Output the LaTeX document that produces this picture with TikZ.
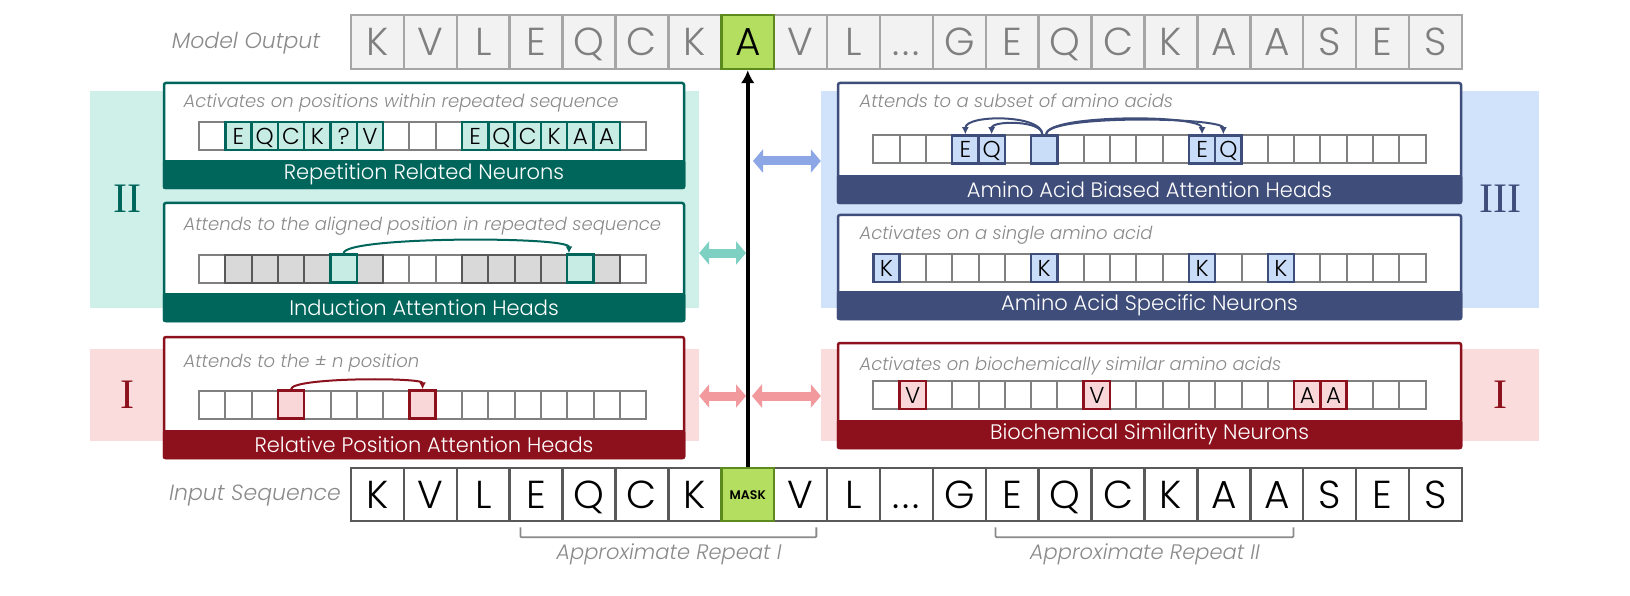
\documentclass[tikz,border=0pt]{standalone}
\usepackage{fontspec}
\setmainfont{Poppins}[UprightFont=* Light,ItalicFont=* Light Italic,BoldFont=* SemiBold]
\newfontfamily\numfont{Liberation Serif}
\usetikzlibrary{arrows.meta,positioning}
\definecolor{tealD}{HTML}{00665C}
\definecolor{tealL}{HTML}{CFEFE9}
\definecolor{tealC}{HTML}{C6ECE4}
\definecolor{tealA}{HTML}{7DD0C2}
\definecolor{navy}{HTML}{3F4D7A}
\definecolor{blueL}{HTML}{D1E2FB}
\definecolor{blueC}{HTML}{C9DCF8}
\definecolor{blueA}{HTML}{8CA6E6}
\definecolor{wine}{HTML}{8C111C}
\definecolor{pinkL}{HTML}{FADCDD}
\definecolor{pinkC}{HTML}{F9D6D8}
\definecolor{pinkA}{HTML}{F2999E}
\definecolor{pickgreen}{HTML}{B3DE5F}
\definecolor{pickedge}{HTML}{5C8A1E}
\definecolor{outfill}{HTML}{F2F2F2}
\definecolor{outgray}{HTML}{A6A6A6}
\definecolor{ingray}{HTML}{595959}
\definecolor{cellgray}{HTML}{808080}
\definecolor{txtgray}{HTML}{7F7F7F}
\definecolor{descgray}{HTML}{8A8A8A}
\definecolor{shade}{HTML}{D9D9D9}
\newcommand\seqdots{.\kern3pt.\kern3pt.}

\begin{document}
\begin{tikzpicture}[x=1pt,y=-1pt,
  outcell/.style={draw=outgray,fill=outfill,text=txtgray,line width=2.5pt,minimum width=52.9pt,minimum height=54pt,inner sep=0pt,text height=28pt,text depth=0pt,font=\fontsize{39}{39}\selectfont},
  incell/.style={outcell,draw=ingray,fill=white,text=black,minimum height=53pt},
  pick/.style={fill=pickgreen,draw=pickedge,text=black},
  cell/.style={draw=cellgray,fill=white,line width=2pt,minimum width=26.3pt,minimum height=28pt,inner sep=0pt,text height=16.5pt,text depth=0pt,font=\fontsize{23}{23}\selectfont},
  hit/.style={cell,line width=2.5pt},
  card/.style={draw,line width=2.5pt,fill=white,rounded corners=2pt,inner sep=0pt},
  band/.style={anchor=south,minimum height=29pt,inner sep=0pt,text=white,font=\fontsize{21}{21}\selectfont,rounded corners=2pt},
  desc/.style={anchor=base west,text=descgray,font=\fontsize{18}{18}\selectfont\itshape},
  rowlbl/.style={text=descgray,font=\fontsize{22}{22}\selectfont\itshape},
  roman/.style={font=\numfont\fontsize{42}{42}\selectfont},
  panel/.style={inner sep=0pt},
  dbl/.style={line width=9pt,{Triangle[length=10pt,width=23pt]}-{Triangle[length=10pt,width=23pt]}},
  curv/.style={line width=2pt,-{Latex[length=7pt,width=7pt]}},
  brk/.style={draw=descgray,line width=1.8pt,rounded corners=1pt}]
\useasboundingbox (0,0) rectangle (1630,596);

\node[panel,fill=tealL,minimum width=609pt,minimum height=217pt] (bgII) at (394.5,199.5) {};
\node[panel,fill=pinkL,minimum width=609pt,minimum height=92pt] (bgIL) at (394.5,395) {};
\node[panel,fill=blueL,minimum width=718pt,minimum height=217pt] (bgIII) at (1180,199.5) {};
\node[panel,fill=pinkL,minimum width=718pt,minimum height=92pt] (bgIR) at (1180,395) {};
\node[roman,text=tealD] (numII) at (127,199) {II};
\node[roman,text=wine] (numIL) at (127,395) {I};
\node[roman,text=navy] (numIII) at (1500,199) {III};
\node[roman,text=wine] (numIR) at (1500,395) {I};

\node[card,draw=tealD,minimum width=520pt,minimum height=105pt] (rep) at (424,135.5) {};
\node[band,fill=tealD,minimum width=522.5pt] (repband) at (rep.south) {Repetition Related Neurons};
\node[card,draw=tealD,minimum width=520pt,minimum height=118pt] (ind) at (424,262) {};
\node[band,fill=tealD,minimum width=522.5pt] (indband) at (ind.south) {Induction Attention Heads};
\node[card,draw=wine,minimum width=520pt,minimum height=121pt] (rel) at (424,397.5) {};
\node[band,fill=wine,minimum width=522.5pt] (relband) at (rel.south) {Relative Position Attention Heads};
\node[card,draw=navy,minimum width=623pt,minimum height=120pt] (ab) at (1149.5,143) {};
\node[band,fill=navy,minimum width=625.5pt] (abband) at (ab.south) {Amino Acid Biased Attention Heads};
\node[card,draw=navy,minimum width=623pt,minimum height=104pt] (as) at (1149.5,267) {};
\node[band,fill=navy,minimum width=625.5pt] (asband) at (as.south) {Amino Acid Specific Neurons};
\node[card,draw=wine,minimum width=623pt,minimum height=105pt] (bio) at (1149.5,395.5) {};
\node[band,fill=wine,minimum width=625.5pt] (bioband) at (bio.south) {Biochemical Similarity Neurons};

\node[desc] (repdesc) at (180,108) {Activates on positions within repeated sequence};
\node[desc] (inddesc) at (180,230) {Attends to the aligned position in repeated sequence};
\node[desc] (reldesc) at (180,367) {Attends to the ± n position};
\node[desc] (abdesc) at (856,108) {Attends to a subset of amino acids};
\node[desc] (asdesc) at (856,240) {Activates on a single amino acid};
\node[desc] (biodesc) at (856,370) {Activates on biochemically similar amino acids};

\foreach \k in {0,...,16} {
  \node[cell] (rep\k) at (212.15+26.3*\k,136) {};
  \node[cell] (ind\k) at (212.15+26.3*\k,268.5) {};
  \node[cell] (rel\k) at (212.15+26.3*\k,404.5) {};
}
\foreach \k in {0,...,20} {
  \node[cell] (ab\k) at (886.45+26.3*\k,149.5) {};
  \node[cell] (as\k) at (886.45+26.3*\k,268) {};
  \node[cell] (bio\k) at (886.45+26.3*\k,395) {};
}
\foreach \k/\c in {1/E,2/Q,3/C,4/K,5/?,6/V,10/E,11/Q,12/C,13/K,14/A,15/A}
  \node[hit,fill=tealC,draw=tealD] (repH\k) at (rep\k) {\c};
\foreach \k in {1,2,3,4,6,10,11,12,13,15}
  \node[cell,fill=shade,draw=ingray] (indG\k) at (ind\k) {};
\foreach \k in {5,14}
  \node[hit,fill=tealC,draw=tealD] (indH\k) at (ind\k) {};
\foreach \k in {3,8}
  \node[hit,fill=pinkC,draw=wine] (relH\k) at (rel\k) {};
\foreach \k/\c in {3/E,4/Q,6/{},12/E,13/Q}
  \node[hit,fill=blueC,draw=navy] (abH\k) at (ab\k) {\c};
\foreach \k in {0,6,12,15}
  \node[hit,fill=blueC,draw=navy] (asH\k) at (as\k) {K};
\foreach \k/\c in {1/V,8/V,16/A,17/A}
  \node[hit,fill=pinkC,draw=wine] (bioH\k) at (bio\k) {\c};

\draw[curv,tealD] (indH5.north) .. controls +(0,-17) and +(0,-17) .. ([xshift=3pt]indH14.north west);
\draw[curv,wine] (relH3.north) .. controls +(0,-12) and +(0,-12) .. (relH8.north);
\draw[curv,navy] ([xshift=-2pt]abH6.north) .. controls +(0,-20) and +(0,-20) .. (abH3.north);
\draw[curv,navy] ([xshift=-2pt]abH6.north) .. controls +(0,-14) and +(0,-14) .. (abH4.north);
\draw[curv,navy] ([xshift=2pt]abH6.north) .. controls +(0,-20) and +(0,-20) .. (abH12.north);
\draw[curv,navy] ([xshift=2pt]abH6.north) .. controls +(0,-20) and +(0,-17) .. ([xshift=-5pt]abH13.north);

\node[rowlbl] (outlbl) at (246,43) {Model Output};
\foreach \c [count=\i from 0] in {K,V,L,E,Q,C,K,A,V,L,\seqdots,G,E,Q,C,K,A,A,S,E,S}
  \node[outcell] (out\i) at (377.45+52.9*\i,42) {\c};
\node[outcell,pick] (outA) at (out7) {A};

\node[rowlbl] (inlbl) at (255,496) {Input Sequence};
\foreach \c [count=\i from 0] in {K,V,L,E,Q,C,K,{},V,L,\seqdots,G,E,Q,C,K,A,A,S,E,S}
  \node[incell] (in\i) at (377.45+52.9*\i,494.5) {\c};
\node[incell,pick,text height=9pt,font=\fontsize{12.5}{12.5}\selectfont\bfseries] (mask) at (in7) {MASK};

\draw[line width=3.5pt,-{Latex[length=13pt,width=14pt]}] (mask.north) -- (outA.south);

\coordinate (jII) at (746,253);
\coordinate (jIII) at (753,161);
\coordinate (jIL) at (746,396);
\coordinate (jIR) at (752,396);
\draw[dbl,tealA] (bgII.east |- jII) -- (jII);
\draw[dbl,blueA] (jIII) -- (bgIII.west |- jIII);
\draw[dbl,pinkA] (bgIL.east |- jIL) -- (jIL);
\draw[dbl,pinkA] (jIR) -- (bgIR.west |- jIR);

\draw[brk] ([shift={(12,5)}]in3.south west) -- ++(0,10) -| ([shift={(-12,5)}]in8.south east);
\draw[brk] ([shift={(11,5)}]in12.south west) -- ++(0,10) -| ([shift={(-11,5)}]in17.south east);
\node[rowlbl,font=\fontsize{21}{21}\selectfont\itshape] (rpI) at (669,554) {Approximate Repeat I};
\node[rowlbl,font=\fontsize{21}{21}\selectfont\itshape] (rpII) at (1145,554) {Approximate Repeat II};
\end{tikzpicture}
\end{document}
